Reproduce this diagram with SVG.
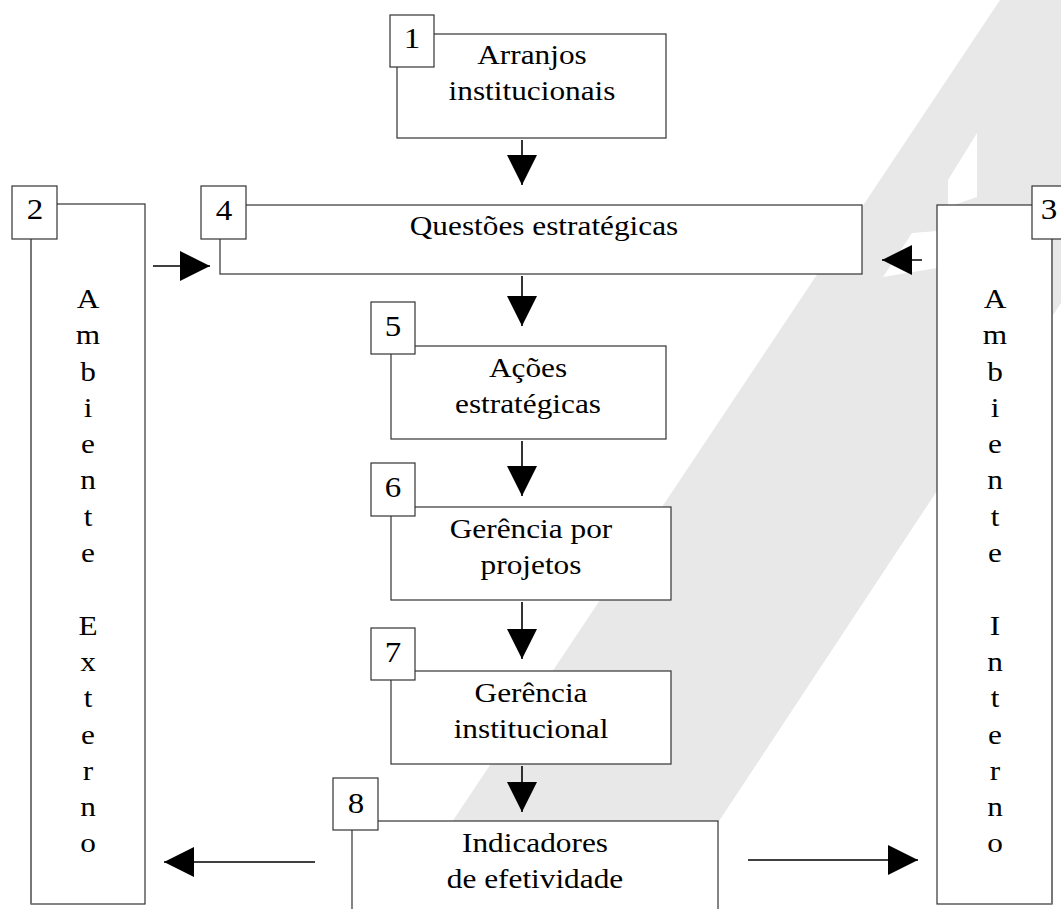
<svg xmlns="http://www.w3.org/2000/svg" width="1061" height="909" viewBox="0 0 1061 909">
<style>
.bx{fill:#fff;stroke:#333;stroke-width:1.2}
.t{font-family:"Liberation Serif","Times New Roman",serif;font-size:27px;fill:#000;text-anchor:middle}
.n{font-family:"Liberation Serif","Times New Roman",serif;font-size:30px;fill:#000;text-anchor:middle}
.c{stroke:#000;stroke-width:1.6;fill:none}
.sh{stroke:#777;stroke-width:2;fill:none}
</style>
<defs>
<marker id="ah" markerWidth="30" markerHeight="30" refX="30" refY="15" orient="auto" markerUnits="userSpaceOnUse">
<path d="M0,0 L30,15 L0,30 z" fill="#000"/>
</marker>
</defs>
<rect width="1061" height="909" fill="#fff"/>
<g id="watermark">
<polygon points="1000,0 1261,0 661,909 394,909" fill="#e8e8e8"/>
<polygon points="948,180 977,133 977,197 948,207" fill="#fff"/>
<polygon points="912,233 937,231 937,268 883,277" fill="#fff"/>
</g>
<g id="node1">
<rect class="bx" x="397" y="34" width="269" height="104"/>
<rect class="bx" x="390" y="15" width="44" height="52"/>
<text class="n" transform="translate(412,48) scale(1.1,1)">1</text>
<text class="t" transform="translate(532,64) scale(1.16,1)">Arranjos</text>
<text class="t" transform="translate(532,100) scale(1.16,1)">institucionais</text>
</g>
<g id="node2">
<rect class="bx" x="31" y="204" width="114" height="700"/>
<line class="sh" x1="31" y1="239" x2="31" y2="904"/>
<rect class="bx" x="12" y="186" width="45" height="53"/>
<text class="n" transform="translate(35,219) scale(1.1,1)">2</text>
<text class="t" transform="translate(88,308) scale(1.16,1)"><tspan x="0" dy="0">A</tspan><tspan x="0" dy="36.3">m</tspan><tspan x="0" dy="36.3">b</tspan><tspan x="0" dy="36.3">i</tspan><tspan x="0" dy="36.3">e</tspan><tspan x="0" dy="36.3">n</tspan><tspan x="0" dy="36.3">t</tspan><tspan x="0" dy="36.3">e</tspan><tspan x="0" dy="72.6">E</tspan><tspan x="0" dy="36.3">x</tspan><tspan x="0" dy="36.3">t</tspan><tspan x="0" dy="36.3">e</tspan><tspan x="0" dy="36.3">r</tspan><tspan x="0" dy="36.3">n</tspan><tspan x="0" dy="36.3">o</tspan></text>
</g>
<g id="node3">
<rect class="bx" x="937" y="205" width="115" height="699"/>
<line class="sh" x1="1052" y1="239" x2="1052" y2="904"/>
<rect class="bx" x="1032" y="186" width="45" height="53"/>
<text class="n" transform="translate(1049,219) scale(1.1,1)">3</text>
<text class="t" transform="translate(995,308) scale(1.16,1)"><tspan x="0" dy="0">A</tspan><tspan x="0" dy="36.3">m</tspan><tspan x="0" dy="36.3">b</tspan><tspan x="0" dy="36.3">i</tspan><tspan x="0" dy="36.3">e</tspan><tspan x="0" dy="36.3">n</tspan><tspan x="0" dy="36.3">t</tspan><tspan x="0" dy="36.3">e</tspan><tspan x="0" dy="72.6">I</tspan><tspan x="0" dy="36.3">n</tspan><tspan x="0" dy="36.3">t</tspan><tspan x="0" dy="36.3">e</tspan><tspan x="0" dy="36.3">r</tspan><tspan x="0" dy="36.3">n</tspan><tspan x="0" dy="36.3">o</tspan></text>
</g>
<g id="node4">
<rect class="bx" x="220" y="205" width="642" height="69"/>
<rect class="bx" x="201" y="186" width="45" height="53"/>
<text class="n" transform="translate(224,220) scale(1.1,1)">4</text>
<text class="t" transform="translate(544,235) scale(1.16,1)">Questões estratégicas</text>
</g>
<g id="node5">
<rect class="bx" x="391" y="346" width="275" height="93"/>
<rect class="bx" x="371" y="302" width="44" height="52"/>
<text class="n" transform="translate(393,336) scale(1.1,1)">5</text>
<text class="t" transform="translate(528,377) scale(1.16,1)">Ações</text>
<text class="t" transform="translate(528,413) scale(1.16,1)">estratégicas</text>
</g>
<g id="node6">
<rect class="bx" x="391" y="507" width="280" height="93"/>
<rect class="bx" x="371" y="463" width="44" height="53"/>
<text class="n" transform="translate(393,497) scale(1.1,1)">6</text>
<text class="t" transform="translate(531,538) scale(1.16,1)">Gerência por</text>
<text class="t" transform="translate(531,574) scale(1.16,1)">projetos</text>
</g>
<g id="node7">
<rect class="bx" x="391" y="671" width="280" height="93"/>
<rect class="bx" x="371" y="628" width="44" height="52"/>
<text class="n" transform="translate(393,662) scale(1.1,1)">7</text>
<text class="t" transform="translate(531,702) scale(1.16,1)">Gerência</text>
<text class="t" transform="translate(531,738) scale(1.16,1)">institucional</text>
</g>
<g id="node8">
<rect class="bx" x="352" y="821" width="366" height="100"/>
<rect class="bx" x="333" y="778" width="45" height="52"/>
<text class="n" transform="translate(356,813) scale(1.1,1)">8</text>
<text class="t" transform="translate(535,852) scale(1.16,1)">Indicadores</text>
<text class="t" transform="translate(535,888) scale(1.16,1)">de efetividade</text>
</g>
<g id="connectors">
<line class="c" x1="522" y1="140" x2="522" y2="185" marker-end="url(#ah)"/>
<line class="c" x1="522" y1="276" x2="522" y2="326" marker-end="url(#ah)"/>
<line class="c" x1="522" y1="441" x2="522" y2="496" marker-end="url(#ah)"/>
<line class="c" x1="522" y1="602" x2="522" y2="659" marker-end="url(#ah)"/>
<line class="c" x1="522" y1="766" x2="522" y2="812" marker-end="url(#ah)"/>
<line class="c" x1="153" y1="266" x2="210" y2="266" marker-end="url(#ah)"/>
<line class="c" x1="922" y1="260" x2="882" y2="260" marker-end="url(#ah)"/>
<line class="c" x1="315" y1="862" x2="164" y2="862" marker-end="url(#ah)"/>
<line class="c" x1="748" y1="860" x2="918" y2="860" marker-end="url(#ah)"/>
</g>
</svg>
